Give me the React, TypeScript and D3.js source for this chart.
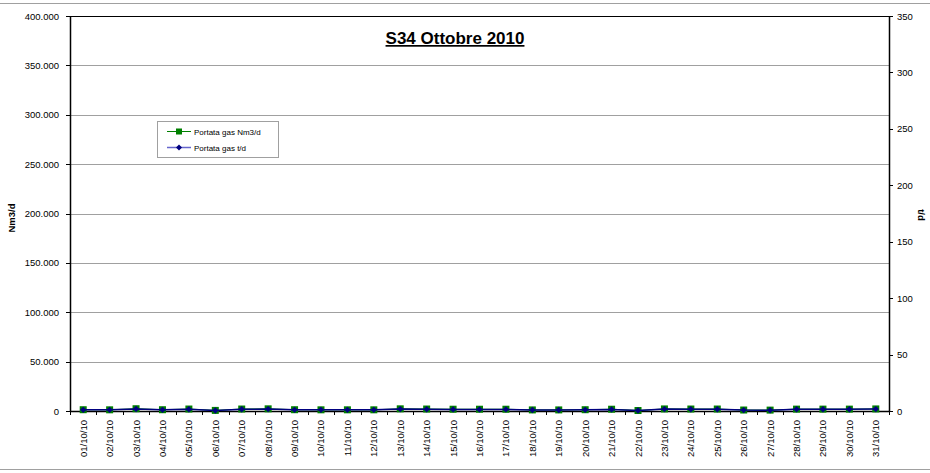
import React from "react";
import * as d3 from "d3";

const categories = [
  "01/10/10","02/10/10","03/10/10","04/10/10","05/10/10","06/10/10","07/10/10","08/10/10","09/10/10","10/10/10",
  "11/10/10","12/10/10","13/10/10","14/10/10","15/10/10","16/10/10","17/10/10","18/10/10","19/10/10","20/10/10",
  "21/10/10","22/10/10","23/10/10","24/10/10","25/10/10","26/10/10","27/10/10","28/10/10","29/10/10","30/10/10","31/10/10",
];
const nm3d = [1300,1200,2300,1300,2000,600,2000,2200,1300,1200,1200,1200,2200,2000,1800,1800,1800,1100,1100,1300,1800,500,2100,2000,2000,1000,900,1900,1900,1900,2100];
const td = [1.0,1.0,1.8,1.0,1.6,0.5,1.6,1.7,1.0,1.0,1.0,1.0,1.7,1.6,1.4,1.4,1.4,0.9,0.9,1.0,1.4,0.4,1.7,1.6,1.6,0.8,0.7,1.5,1.5,1.5,1.7];
const leftTicks = [0,50000,100000,150000,200000,250000,300000,350000,400000];
const rightTicks = [0,50,100,150,200,250,300,350];
const title = "S34 Ottobre 2010";
const seriesNames = ["Portata gas Nm3/d", "Portata gas t/d"];

const W = 930, H = 473;
const L = 70, R = 889, T = 16, B = 411;
const font = "Arial, 'Liberation Sans', sans-serif";

export default function App() {
  const x = d3.scaleBand<string>().domain(categories).range([L, R]);
  const yL = d3.scaleLinear().domain([0, 400000]).range([B, T]);
  const yR = d3.scaleLinear().domain([0, 350]).range([B, T]);
  const fmt = (v: number) => d3.format(",")(v).replace(/,/g, ".");
  const cx = (c: string) => (x(c) as number) + x.bandwidth() / 2;
  const lineL = d3.line<number>().x((_, i) => cx(categories[i])).y((v) => yL(v));
  const lineR = d3.line<number>().x((_, i) => cx(categories[i])).y((v) => yR(v));
  const green = "#008000";
  const navy = "#000080";
  const diamond = (px: number, py: number, s = 3) =>
    `M${px},${py - s}L${px + s},${py}L${px},${py + s}L${px - s},${py}Z`;

  return (
    <svg width={W} height={H} style={{ position: "absolute", left: 0, top: 0, background: "#fff" }} fontFamily={font}>
      <rect x={-1} y={3.5} width={W + 2} height={466} fill="none" stroke="#a0a0a0" strokeWidth={1} />
      {leftTicks.map((t) => (
        <line key={"g" + t} x1={L} x2={R} y1={Math.round(yL(t)) + 0.5} y2={Math.round(yL(t)) + 0.5} stroke="#a0a0a0" strokeWidth={1} />
      ))}
      {leftTicks.map((t) => (
        <g key={"l" + t}>
          <line x1={L - 4} x2={L} y1={Math.round(yL(t)) + 0.5} y2={Math.round(yL(t)) + 0.5} stroke="#000" />
          <text x={59} y={yL(t) + 3.5} fontSize={9.5} textAnchor="end" fill="#000">{fmt(t)}</text>
        </g>
      ))}
      {rightTicks.map((t) => (
        <g key={"r" + t}>
          <line x1={R} x2={R + 4} y1={Math.round(yR(t)) + 0.5} y2={Math.round(yR(t)) + 0.5} stroke="#000" />
          <text x={897} y={yR(t) + 3.5} fontSize={9.5} textAnchor="start" fill="#000">{t}</text>
        </g>
      ))}
      <line x1={L + 0.5} x2={L + 0.5} y1={T} y2={B} stroke="#000" strokeWidth={1.5} />
      <line x1={R + 0.5} x2={R + 0.5} y1={T} y2={B} stroke="#000" strokeWidth={1.5} />
      <line x1={L} x2={R} y1={T + 0.5} y2={T + 0.5} stroke="#000" strokeWidth={1} />
      <line x1={L} x2={R} y1={B + 0.5} y2={B + 0.5} stroke="#000" strokeWidth={1.5} />
      {categories.map((c) => (
        <line key={"xt" + c} x1={Math.round(x(c) as number) + 0.5} x2={Math.round(x(c) as number) + 0.5} y1={B} y2={B + 4} stroke="#000" />
      ))}
      <line x1={R + 0.5} x2={R + 0.5} y1={B} y2={B + 4} stroke="#000" />
      {categories.map((c) => (
        <text key={"xl" + c} transform={`translate(${cx(c) + 3.5},420) rotate(-90)`} fontSize={9.5} textAnchor="end" fill="#000">{c}</text>
      ))}
      <path d={lineL(nm3d) || ""} fill="none" stroke={green} strokeWidth={1} />
      {nm3d.map((v, i) => (
        <rect key={"s" + i} x={cx(categories[i]) - 3.5} y={yL(v) - 3.5} width={7} height={7} fill={green} />
      ))}
      <path d={lineR(td) || ""} fill="none" stroke={navy} strokeWidth={1.5} />
      {td.map((v, i) => (
        <path key={"d" + i} d={diamond(cx(categories[i]), yR(v), 3.2)} fill={navy} />
      ))}
      <text transform="translate(15,218) rotate(-90)" fontSize={9.5} fontWeight="bold" textAnchor="middle" fill="#000">Nm3/d</text>
      <text transform="translate(918,215) rotate(90)" fontSize={9.5} fontWeight="bold" textAnchor="middle" fill="#000">t/d</text>
      <text x={455} y={44} fontSize={17} fontWeight="bold" textAnchor="middle" textDecoration="underline" fill="#000">{title}</text>
      <rect x={157.5} y={121.5} width={121} height={36} fill="#fff" stroke="#a0a0a0" />
      <line x1={167} x2={191} y1={131.5} y2={131.5} stroke={green} />
      <rect x={176} y={128.5} width={6} height={6} fill={green} />
      <text x={194} y={134.5} fontSize={8} fill="#000">{seriesNames[0]}</text>
      <line x1={167} x2={191} y1={147.5} y2={147.5} stroke="#6666cc" strokeWidth={1.5} />
      <path d={diamond(179, 147.5, 3)} fill={navy} />
      <text x={194} y={150.5} fontSize={8} fill="#000">{seriesNames[1]}</text>
    </svg>
  );
}
